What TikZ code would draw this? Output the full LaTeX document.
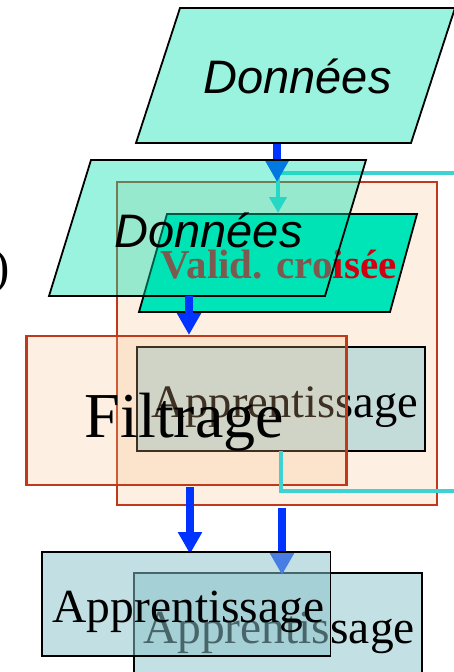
\documentclass[tikz,border=0pt]{standalone}
\usepackage{fontspec}
\setmainfont{Liberation Serif}
\setsansfont{Liberation Sans}
\usetikzlibrary{arrows.meta}

\definecolor{datafill}{RGB}{0,225,175}
\definecolor{datalight}{RGB}{153,243,223}
\definecolor{validfill}{RGB}{0,229,184}
\definecolor{boxred}{RGB}{192,57,27}
\definecolor{peach}{RGB}{253,239,226}
\definecolor{filtfill}{RGB}{248,192,140}
\definecolor{learnmid}{RGB}{195,220,218}
\definecolor{learnlight}{RGB}{195,224,228}
\definecolor{learndeep}{RGB}{139,195,203}
\definecolor{loopcyan}{RGB}{62,210,210}
\definecolor{flowblue}{RGB}{0,51,255}
\definecolor{validred}{RGB}{208,0,16}

\begin{document}
\begin{tikzpicture}[x=1pt,y=-1pt,
  flow/.style={draw=flowblue, line width=7.5pt, -{Triangle[width=23pt,length=22pt]}},
  loopline/.style={draw=loopcyan, line width=4.5pt},
  redbox/.style={draw=boxred, line width=2.2pt, inner sep=0pt, outer sep=0pt},
  learnbox/.style={draw=black, line width=1.8pt, inner sep=0pt, outer sep=0pt},
  datatext/.style={font=\sffamily\itshape\fontsize{47}{50}\selectfont, inner sep=0pt, anchor=base},
  seriftext/.style={font=\fontsize{#1}{#1}\selectfont, inner sep=0pt, anchor=base},
  edge/.style={draw=black, line width=1.8pt, line join=miter}
]
\useasboundingbox (0,0) rectangle (454,672);

% outer cross-validation frame
\node[redbox, fill=peach, minimum width=320pt, minimum height=323pt] (cv) at (277,343.5) {};

% cross-validation parallelogram
\path[edge, fill=validfill] (139,312) -- (167,214) -- (417,214) -- (390,312) -- cycle;
\node[font=\bfseries\fontsize{41}{41}\selectfont, text=validred, inner sep=0pt, anchor=base] (valid) at (278.5,278) {Valid. croisée};
\coordinate (vtop) at (278,214);

% feedback loop entering from the right
\coordinate (loopin) at (460,173);
\draw[loopline, -{Triangle[width=17pt,length=16pt]}] (loopin) -- (278,173) -- ([yshift=1pt]vtop);

% first data block and its arrow
\coordinate (d1b) at (277,143);
\draw[flow] (d1b) -- (d1b |- cv.north);
\path[edge, fill=datalight] (136,143) -- (180,8) -- (455,8) -- (411,143) -- cycle;
\node[datatext] (data1) at (297.5,93) {Données};

% second data block, translucent
\path[fill=datafill, fill opacity=0.4] (49,296) -- (91,160) -- (366,160) -- (325,296) -- cycle;
\path[edge] (49,296) -- (91,160) -- (366,160) -- (325,296) -- cycle;
\node[datatext] (data2) at (208.5,247) {Données};

% filtering and inner learning blocks
\node[redbox, draw=none, minimum width=320pt, minimum height=149pt] (filt) at (186.5,410.5) {};
\coordinate (d2b) at (189,296);
\draw[flow] (d2b) -- ([yshift=1pt]d2b |- filt.north);

\node[learnbox, fill=learnmid, minimum width=288pt, minimum height=104pt] (learnmid) at (281,399) {};
\node[seriftext=46.5] (learnmidtxt) at (285,417) {Apprentissage};

\path[fill=filtfill, fill opacity=0.25] (filt.south west) rectangle (filt.north east);
\draw[draw=boxred, line width=2.2pt] (filt.south west) rectangle (filt.north east);
\node[seriftext=64] (filttxt) at (184.5,437) {Filtrage};

% loop leaving the learning block
\coordinate (loopx) at (281,0);
\coordinate (loopout) at (460,491);
\draw[loopline] (learnmid.south -| loopx) -- (loopx |- loopout) -- (loopout);

% final learning blocks
\node[learnbox, fill=learnlight, minimum width=288pt, minimum height=120pt] (learnB) at (278,633) {};
\node[seriftext=47.5] (learnBtxt) at (279,643) {Apprentissage};
\node[learnbox, draw=none, minimum width=288.5pt, minimum height=104pt] (learnA) at (186.25,604) {};

\coordinate (arrA) at (190,0);
\coordinate (arrB) at (282,0);
\draw[flow] ([yshift=-3pt]cv.south -| arrB) -- ([yshift=-2pt]learnB.north -| arrB);
\draw[flow] ([yshift=-2pt]filt.south -| arrA) -- ([yshift=-2pt]learnA.north -| arrA);

\path[fill=learndeep, fill opacity=0.52] (learnA.south west) rectangle (learnA.north east);
\draw[black, line width=1.8pt] (learnA.south west) rectangle (learnA.north east);
\node[seriftext=47.5] (learnAtxt) at (188.5,622) {Apprentissage};

% closing parenthesis at the left margin
\node[seriftext=49, anchor=base east] (paren) at (10,283) {)};
\end{tikzpicture}
\end{document}
